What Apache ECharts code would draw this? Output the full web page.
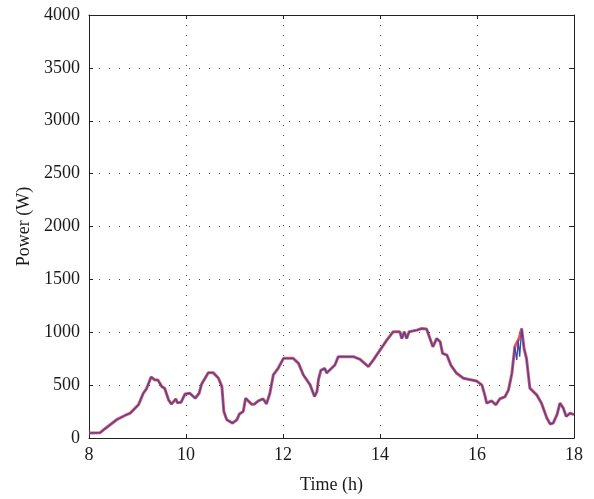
<!DOCTYPE html>
<html>
<head>
<meta charset="utf-8">
<script src="https://cdn.jsdelivr.net/npm/echarts@6/dist/echarts.min.js"></script>
<style>
  html, body { margin: 0; padding: 0; background: #fff; }
  #myChart { width: 594px; height: 499px; }
</style>
</head>
<body>
<div id="myChart"></div>
<script>
// time (h)
var timeH = [8.00, 8.23, 8.33, 8.57, 8.74, 8.85, 9.02, 9.12, 9.19, 9.28, 9.36, 9.42, 9.50, 9.56, 9.64, 9.70,
  9.79, 9.82, 9.90, 9.98, 10.08, 10.19, 10.27, 10.32, 10.46, 10.56, 10.67, 10.74, 10.78, 10.84, 10.96,
  11.05, 11.10, 11.18, 11.23, 11.26, 11.35, 11.41, 11.49, 11.59, 11.66, 11.73, 11.80, 11.90, 12.01,
  12.21, 12.32, 12.42, 12.56, 12.65, 12.70, 12.73, 12.78, 12.86, 12.90, 13.07, 13.14, 13.45, 13.59,
  13.76, 13.86, 14.00, 14.14, 14.27, 14.41, 14.45, 14.50, 14.55, 14.60, 14.76, 14.86, 14.96, 15.03,
  15.09, 15.17, 15.24, 15.29, 15.38, 15.46, 15.58, 15.72, 15.82, 15.99, 16.10, 16.16, 16.20, 16.30,
  16.39, 16.47, 16.58, 16.65, 16.72, 16.78, 16.82, 16.85, 16.88, 16.92, 16.97, 17.02, 17.09, 17.23,
  17.33, 17.44, 17.51, 17.57, 17.65, 17.71, 17.78, 17.84, 17.92, 18.00]

// red curve (W)
var powerRed = [47, 50, 88, 173, 213, 235, 314, 423, 470, 577, 549, 549, 486, 470, 361, 320,
  370, 333, 339, 417, 423, 376, 423, 508, 618, 618, 565, 486, 251, 173, 141,
  173, 226, 251, 376, 392, 320, 320, 351, 370, 323, 423, 596, 659, 753,
  753, 706, 596, 502, 392, 439, 549, 640, 659, 615, 690, 769, 769, 743,
  675, 737, 831, 925, 1004, 1004, 941, 1004, 941, 1004, 1020, 1035, 1030, 941,
  863, 941, 910, 800, 784, 690, 612, 565, 555, 539, 502, 408, 329, 351,
  314, 370, 392, 455, 612, 863, 900, 925, 960, 1035, 847, 753, 471, 408,
  329, 188, 132, 141, 220, 329, 282, 204, 235, 220]

// blue curve (W)
var powerBlue = [47, 50, 88, 173, 213, 235, 314, 423, 470, 577, 549, 549, 486, 470, 361, 320,
  370, 333, 339, 417, 423, 376, 423, 508, 618, 618, 565, 486, 251, 173, 141,
  173, 226, 251, 376, 392, 320, 320, 351, 370, 323, 423, 596, 659, 753,
  753, 706, 596, 502, 392, 439, 549, 640, 659, 615, 690, 769, 769, 743,
  675, 737, 831, 925, 1004, 1004, 941, 1004, 941, 1004, 1020, 1035, 1030, 941,
  863, 941, 910, 800, 784, 690, 612, 565, 555, 539, 502, 408, 329, 351,
  314, 370, 392, 455, 612, 863, 737, 925, 769, 1035, 847, 753, 471, 408,
  329, 188, 132, 141, 220, 329, 282, 204, 235, 220]

function pairs (ys) {
  return timeH.map(function (t, i) { return [t, ys[i]] })
}

var font = 'Liberation Serif'
var dotted = { color: '#444', width: 1, type: [1, 9] }
var plain = function (v) { return String(v) }

var myChart = echarts.init(document.getElementById('myChart'))
myChart.setOption({
  animation: false,
  backgroundColor: '#fff',
  grid: { left: 89, right: 20, top: 15, bottom: 59, containLabel: false },
  xAxis: [
    {
      type: 'value',
      min: 8,
      max: 18,
      interval: 2,
      name: 'Time (h)',
      nameLocation: 'middle',
      nameGap: 38,
      nameTextStyle: { fontFamily: font, fontSize: 18, color: '#1a1a1a' },
      axisLine: { show: true, onZero: false, lineStyle: { color: '#222', width: 1 } },
      axisTick: { show: true, inside: true, length: 4, lineStyle: { color: '#222' } },
      axisLabel: { fontFamily: font, fontSize: 18, color: '#1a1a1a', margin: 8, formatter: plain },
      splitLine: { show: true, lineStyle: dotted }
    },
    {
      type: 'value',
      position: 'top',
      min: 8,
      max: 18,
      interval: 2,
      axisLine: { show: true, onZero: false, lineStyle: { color: '#222', width: 1 } },
      axisTick: { show: true, inside: true, length: 4, lineStyle: { color: '#222' } },
      axisLabel: { show: false },
      splitLine: { show: false }
    }
  ],
  yAxis: [
    {
      type: 'value',
      min: 0,
      max: 4000,
      interval: 500,
      name: 'Power (W)',
      nameLocation: 'middle',
      nameGap: 56,
      nameTextStyle: { fontFamily: font, fontSize: 18, color: '#1a1a1a' },
      axisLine: { show: true, onZero: false, lineStyle: { color: '#222', width: 1 } },
      axisTick: { show: true, inside: true, length: 4, lineStyle: { color: '#222' } },
      axisLabel: { fontFamily: font, fontSize: 18, color: '#1a1a1a', margin: 9, formatter: plain },
      splitLine: { show: true, lineStyle: dotted }
    },
    {
      type: 'value',
      position: 'right',
      min: 0,
      max: 4000,
      interval: 500,
      axisLine: { show: true, onZero: false, lineStyle: { color: '#222', width: 1 } },
      axisTick: { show: true, inside: true, length: 4, lineStyle: { color: '#222' } },
      axisLabel: { show: false },
      splitLine: { show: false }
    }
  ],
  series: [
    {
      name: 'red',
      type: 'line',
      data: pairs(powerRed),
      showSymbol: false,
      lineStyle: { color: '#e8303e', width: 3, opacity: 0.85 }
    },
    {
      name: 'blue',
      type: 'line',
      data: pairs(powerBlue),
      showSymbol: false,
      lineStyle: { color: '#3a4aa8', width: 1.3 }
    }
  ]
})
</script>
</body>
</html>
